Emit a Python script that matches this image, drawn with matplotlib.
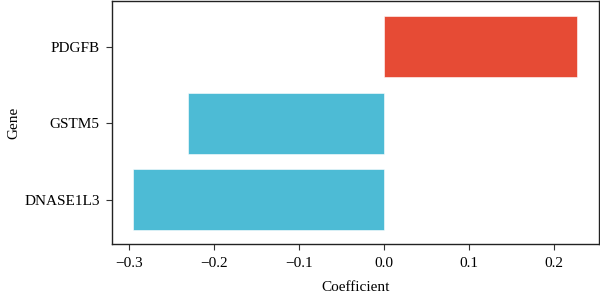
import matplotlib
matplotlib.use("Agg")
import matplotlib.pyplot as plt

plt.rcParams['font.family'] = ['Liberation Serif', 'DejaVu Serif']
plt.rcParams['font.size'] = 11

genes = ['DNASE1L3', 'GSTM5', 'PDGFB']
coefs = [-0.295, -0.231, 0.227]
colors = ['#E64B35' if c > 0 else '#4DBBD5' for c in coefs]

fig = plt.figure(figsize=(6, 2.98), dpi=100)
ax = fig.add_axes([0.187, 0.181, 0.811, 0.816])

ax.barh(range(len(genes)), coefs, height=0.8, color=colors,
        edgecolor='white', linewidth=0.4)

ax.set_yticks(range(len(genes)))
ax.set_yticklabels(genes)
ax.set_xticks([-0.3, -0.2, -0.1, 0.0, 0.1, 0.2])
ax.set_xticklabels(['\u22120.3', '\u22120.2', '\u22120.1', '0.0', '0.1', '0.2'])
ax.set_xlim(-0.32, 0.253)
ax.set_ylim(-0.58, 2.6)

ax.set_xlabel('Coefficient', fontsize=11, labelpad=8)
ax.set_ylabel('Gene', fontsize=11, labelpad=3)

for s in ax.spines.values():
    s.set_linewidth(1.0)
    s.set_color('#222222')
ax.tick_params(length=4, width=0.8, color='#333333', labelsize=11, pad=5)

fig.savefig('out.png', dpi=100)
